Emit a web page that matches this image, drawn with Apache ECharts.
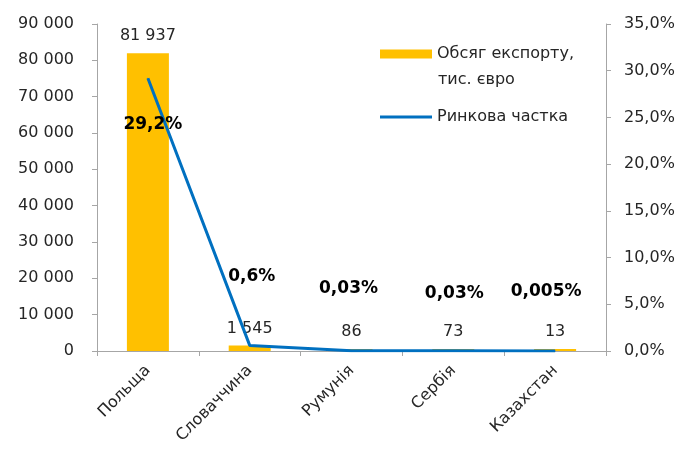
<!DOCTYPE html>
<html><head><meta charset="utf-8">
<script src="https://cdn.jsdelivr.net/npm/echarts@6/dist/echarts.min.js"></script>
<style>html,body{margin:0;padding:0;background:#fff}#c{width:686px;height:451px}</style>
</head><body><div id="c"></div>
<script>
const categories = ['Польща','Словаччина','Румунія','Сербія','Казахстан'];
const exportValues = [81937, 1545, 86, 73, 13];
const shareValues = [29.2, 0.6, 0.03, 0.03, 0.005];
const shareLabels = ['29,2%','0,6%','0,03%','0,03%','0,005%'];
const leftTicks = {min:0, max:90000, interval:10000};
const rightTicks = {min:0, max:35, interval:5};
const shareLabelOffsets = [[5,46],[2,-69],[-3,-62],[1,-57],[-9,-59]];
const barName = 'Обсяг експорту, тис. євро';
const lineName = 'Ринкова частка';

const FONT = '"DejaVu Sans", sans-serif';
const fmt = v => String(v).replace(/\B(?=(\d{3})+(?!\d))/g, ' ');
const chart = echarts.init(document.getElementById('c'));
chart.setOption({
  animation:false,
  textStyle:{fontFamily:FONT},
  grid:{left:97,right:80,top:24,bottom:100},
  legend:[
    {left:375, top:41, itemWidth:52, itemHeight:9, padding:5,
     textStyle:{fontSize:16, color:'#262626', fontFamily:FONT, padding:[14,0,0,0]},
     formatter:()=>'Обсяг експорту,',
     data:[{name:barName, icon:'rect'}]},
    {left:375, top:104, itemWidth:52, itemHeight:9, padding:5,
     textStyle:{fontSize:16, color:'#262626', fontFamily:FONT},
     data:[{name:lineName, icon:'path://M0,0H100V6H0Z'}]}
  ],
  graphic:[{type:'text', left:438, top:72, style:{text:'тис. євро', fontSize:16, fill:'#262626', fontFamily:FONT}}],
  xAxis:{type:'category', data:categories,
    axisLine:{lineStyle:{color:'#A6A6A6'}}, axisTick:{show:true, lineStyle:{color:'#A6A6A6'}},
    axisLabel:{rotate:45, fontSize:16, color:'#262626', fontFamily:FONT, interval:0, margin:17}},
  yAxis:[
    {type:'value', min:leftTicks.min, max:leftTicks.max, interval:leftTicks.interval, splitLine:{show:false},
     axisLine:{show:true, lineStyle:{color:'#A6A6A6'}}, axisTick:{show:true, lineStyle:{color:'#A6A6A6'}},
     axisLabel:{fontSize:16, color:'#262626', fontFamily:FONT, formatter:v=>fmt(v), margin:23}},
    {type:'value', min:rightTicks.min, max:rightTicks.max, interval:rightTicks.interval, splitLine:{show:false},
     axisLine:{show:true, lineStyle:{color:'#A6A6A6'}}, axisTick:{show:true, lineStyle:{color:'#A6A6A6'}},
     axisLabel:{fontSize:16, color:'#262626', fontFamily:FONT, formatter:v=>v.toFixed(1).replace('.',',')+'%', margin:18}}
  ],
  series:[
    {name:barName, type:'bar', data:exportValues, barWidth:42, barMinHeight:2, itemStyle:{color:'#FFC000'},
     label:{show:true, position:'top', distance:9, fontSize:16, color:'#262626', fontFamily:FONT, formatter:p=>fmt(p.value)}},
    {name:lineName, type:'line', yAxisIndex:1, symbol:'circle', symbolSize:1, showSymbol:true, z:5,
     lineStyle:{color:'#0070C0', width:3}, itemStyle:{color:'#0070C0'},
     label:{show:true, position:'inside', fontSize:17, fontWeight:'bold', color:'#000', fontFamily:FONT},
     data:shareValues.map((v,i)=>({value:v, label:{offset:shareLabelOffsets[i], formatter:shareLabels[i]}}))}
  ]
});
</script></body></html>
